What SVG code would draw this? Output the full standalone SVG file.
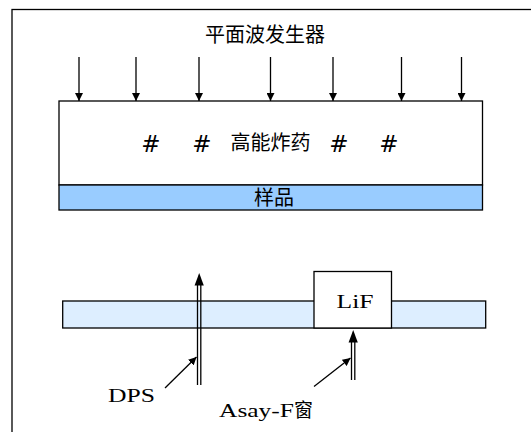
<svg xmlns="http://www.w3.org/2000/svg" width="531" height="432" viewBox="0 0 531 432">
<style>
.ln{stroke:#000;stroke-width:1.3;fill:none}
.box{stroke:#000;stroke-width:1.3}
.cjk{font-family:"Liberation Sans","Noto Sans CJK SC",sans-serif;font-size:20px;fill:#000}
.hash{font-family:"DejaVu Sans",sans-serif;font-size:23px;fill:#000}
.ser{font-family:"Liberation Serif","Noto Sans CJK SC",serif;font-size:19px;fill:#000}
</style>
<defs>
<marker id="ah" viewBox="0 0 10 10" refX="10" refY="5" markerWidth="8" markerHeight="8" markerUnits="userSpaceOnUse" orient="auto">
<path d="M0,0 L10,5 L0,10 z" fill="#000"/>
</marker>
</defs>
<rect x="12" y="9.5" width="540" height="440" fill="#fff" stroke="#000" stroke-width="1.3"/>
<g id="title"><text class="cjk" x="265" y="42" text-anchor="middle">平面波发生器</text></g>
<g id="connectors">
<line class="ln" x1="79" y1="57" x2="79" y2="101" marker-end="url(#ah)"/>
<line class="ln" x1="136" y1="57" x2="136" y2="101" marker-end="url(#ah)"/>
<line class="ln" x1="199" y1="57" x2="199" y2="101" marker-end="url(#ah)"/>
<line class="ln" x1="270.5" y1="57" x2="270.5" y2="101" marker-end="url(#ah)"/>
<line class="ln" x1="333" y1="57" x2="333" y2="101" marker-end="url(#ah)"/>
<line class="ln" x1="401.5" y1="57" x2="401.5" y2="101" marker-end="url(#ah)"/>
<line class="ln" x1="461.5" y1="57" x2="461.5" y2="101" marker-end="url(#ah)"/>
</g>
<g id="explosive">
<rect class="box" x="59" y="101" width="423.5" height="84" fill="#fff"/>
<text class="hash" x="151" y="152" text-anchor="middle">#</text>
<text class="hash" x="202" y="152" text-anchor="middle">#</text>
<text class="cjk" x="270.5" y="150" text-anchor="middle">高能炸药</text>
<text class="hash" x="339" y="152" text-anchor="middle">#</text>
<text class="hash" x="389" y="152" text-anchor="middle">#</text>
</g>
<g id="sample">
<rect class="box" x="59" y="185" width="423.5" height="25" fill="#99ccff"/>
<text class="cjk" x="274" y="205" text-anchor="middle">样品</text>
</g>
<g id="strip">
<rect class="box" x="62.7" y="301" width="423" height="27" fill="#ddeeff"/>
</g>
<g id="lif">
<rect class="box" x="314" y="271.5" width="77.5" height="56.5" fill="#fff"/>
<text class="ser" x="355" y="308" text-anchor="middle" textLength="37" lengthAdjust="spacingAndGlyphs">LiF</text>
</g>
<g id="dps-probe">
<line class="ln" x1="197.5" y1="385" x2="197.5" y2="284"/>
<line class="ln" x1="200.8" y1="385" x2="200.8" y2="284"/>
<path d="M194.6,285.5 L199.2,273 L203.8,285.5 z" fill="#000"/>
</g>
<g id="asay-probe">
<line class="ln" x1="351.5" y1="380" x2="351.5" y2="341"/>
<line class="ln" x1="354.8" y1="380" x2="354.8" y2="341"/>
<path d="M348.6,342.5 L353.2,330 L357.8,342.5 z" fill="#000"/>
</g>
<g id="pointers">
<line class="ln" x1="165" y1="388" x2="196.5" y2="357" marker-end="url(#ah)"/>
<line class="ln" x1="314" y1="386.5" x2="350.5" y2="358" marker-end="url(#ah)"/>
</g>
<g id="dps-label"><text class="ser" x="131.5" y="401.5" text-anchor="middle" textLength="47" lengthAdjust="spacingAndGlyphs">DPS</text></g>
<g id="asay-label"><text class="ser" x="219" y="416.5" textLength="75" lengthAdjust="spacingAndGlyphs">Asay-F</text><text class="ser" x="294" y="416.5" font-size="18">窗</text></g>
</svg>
